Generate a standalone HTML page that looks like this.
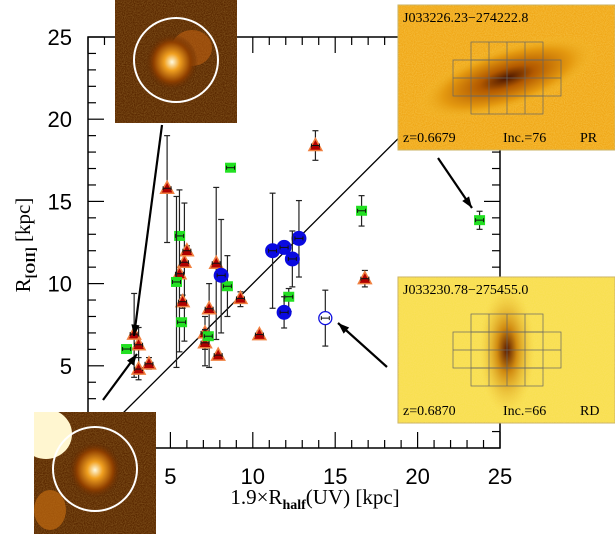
<!DOCTYPE html>
<html><head><meta charset="utf-8"><style>
html,body{margin:0;padding:0;background:#fff;width:615px;height:534px;overflow:hidden}
</style></head><body>
<svg id="chart" width="615" height="534" viewBox="0 0 615 534" xmlns="http://www.w3.org/2000/svg" font-family="Liberation Sans, sans-serif">
<defs>
<filter id="noise" x="0" y="0" width="100%" height="100%"><feTurbulence type="fractalNoise" baseFrequency="0.9" numOctaves="1" seed="3"/><feColorMatrix values="0 0 0 0 1  0 0 0 0 0.75  0 0 0 0 0.2  0 0 0 1.2 -0.35"/></filter>
<radialGradient id="g1" cx="0.5" cy="0.5" r="0.5"><stop offset="0" stop-color="#4a1500"/><stop offset="0.3" stop-color="#b35a00"/><stop offset="0.7" stop-color="#e59a10"/><stop offset="1" stop-color="#f5c030" stop-opacity="0"/></radialGradient>
<radialGradient id="g2" cx="0.5" cy="0.5" r="0.5"><stop offset="0" stop-color="#5a1a00"/><stop offset="0.35" stop-color="#d08a10"/><stop offset="1" stop-color="#f5d040" stop-opacity="0"/></radialGradient>
<radialGradient id="gs1" cx="0.5" cy="0.5" r="0.5"><stop offset="0" stop-color="#fffbe0"/><stop offset="0.3" stop-color="#f0a020"/><stop offset="0.7" stop-color="#904000"/><stop offset="1" stop-color="#5a2500" stop-opacity="0"/></radialGradient>
<clipPath id="plotclip"><rect x="88" y="37" width="412" height="411"/></clipPath>
<clipPath id="blclip"><rect x="34" y="412" width="122" height="122"/></clipPath>
</defs>
<g id="axes"></g>
<g id="marks"></g>
<g id="insets"></g>
</svg>
<script>
const xTicks=[5,10,15,20,25];
const yTicks=[5,10,15,20,25];
const triX=[4.8,13.8,5.85,6.0,5.55,5.74,7.78,7.35,7.1,7.1,7.9,9.25,10.4,16.8,2.8,3.07,3.07,3.7];
const triY=[15.8,18.4,11.3,12.0,10.6,8.9,11.24,8.47,7.0,6.4,5.65,9.1,6.9,10.3,6.93,6.28,4.8,5.12];
const triLo=[12.5,17.5,6.5,11.7,5.85,8.5,6.6,4.9,6.0,5.0,5.5,8.6,6.7,9.8,4.3,4.15,4.5,4.8];
const triHi=[19.0,19.3,14.9,12.3,15.7,9.3,15.85,10.0,8.0,7.2,5.8,9.5,7.1,10.8,9.4,7.33,5.5,5.5];
const grX=[8.65,5.56,5.37,5.68,8.46,7.3,12.18,16.6,23.76,2.34];
const grY=[17.05,12.9,10.1,7.65,9.84,6.8,9.2,14.43,13.86,6.02];
const grLo=[17.0,12.7,4.9,7.4,8.0,6.6,8.3,13.5,13.3,6.0];
const grHi=[17.1,13.1,15.3,7.9,11.7,7.0,9.7,15.35,14.4,6.05];
const blX=[8.08,11.2,11.9,12.8,12.4,11.9];
const blY=[10.5,12.0,12.2,12.75,11.5,8.25];
const blLo=[7.0,8.5,12.0,10.4,9.8,7.3];
const blHi=[13.9,15.5,12.4,15.05,13.2,9.2];
const opX=[14.4],opY=[7.9],opLo=[6.2],opHi=[9.6];

const NS="http://www.w3.org/2000/svg";
const X0=88,X1=500,Y0=448,Y1=37;
const sx=v=>X0+(X1-X0)*v/25;
const sy=v=>Y0-(Y0-Y1)*v/25;
function mk(tag,attrs,parent){const e=document.createElementNS(NS,tag);for(const k in attrs)e.setAttribute(k,attrs[k]);parent.appendChild(e);return e;}
const axes=document.getElementById('axes'),marks=document.getElementById('marks'),ins=document.getElementById('insets');

const frame=mk('rect',{x:X0,y:Y1,width:X1-X0,height:Y0-Y1,fill:'none',stroke:'#000','stroke-width':1.5},axes);


for(let v=0;v<=25;v++){
  const L=(v%5===0)?16:8;
  const px=sx(v),py=sy(v);
  mk('line',{x1:px,y1:Y0,x2:px,y2:Y0-L,stroke:'#000','stroke-width':1.2},axes);
  mk('line',{x1:px,y1:Y1,x2:px,y2:Y1+L,stroke:'#000','stroke-width':1.2},axes);
  mk('line',{x1:X0,y1:py,x2:X0+L,y2:py,stroke:'#000','stroke-width':1.2},axes);
  mk('line',{x1:X1,y1:py,x2:X1-L,y2:py,stroke:'#000','stroke-width':1.2},axes);
}
xTicks.forEach(v=>{const t=mk('text',{x:sx(v),y:484,'text-anchor':'middle','font-size':22},axes);t.textContent=v;

});
yTicks.forEach(v=>{const t=mk('text',{x:72,y:sy(v)+8,'text-anchor':'end','font-size':22},axes);t.textContent=v;

});

const diag=mk('line',{x1:sx(0),y1:sy(0),x2:sx(25),y2:sy(25),stroke:'#000','stroke-width':1.3,'clip-path':'url(#plotclip)'},marks);



function errbar(x,y,lo,hi,g){
  const px=sx(x);
  mk('line',{x1:px,y1:sy(lo),x2:px,y2:sy(hi),stroke:'#222','stroke-width':1.2},g);
  mk('line',{x1:px-3,y1:sy(lo),x2:px+3,y2:sy(lo),stroke:'#222','stroke-width':1.2},g);
  mk('line',{x1:px-3,y1:sy(hi),x2:px+3,y2:sy(hi),stroke:'#222','stroke-width':1.2},g);
}
function xbar(x,y,g){const px=sx(x),py=sy(y);
  mk('line',{x1:px-4,y1:py,x2:px+4,y2:py,stroke:'#111','stroke-width':1},g);
  mk('line',{x1:px-4,y1:py-2,x2:px-4,y2:py+2,stroke:'#111','stroke-width':1},g);
  mk('line',{x1:px+4,y1:py-2,x2:px+4,y2:py+2,stroke:'#111','stroke-width':1},g);}

triX.forEach((x,i)=>{const g=mk('g',{},marks);


errbar(x,triY[i],triLo[i],triHi[i],g);const px=sx(x),py=sy(triY[i]);
mk('polygon',{points:`${px},${py-7} ${px-6.5},${py+5} ${px+6.5},${py+5}`,fill:'#b00000',stroke:'#f08040','stroke-width':1.5},g);xbar(x,triY[i],g);});
grX.forEach((x,i)=>{const g=mk('g',{},marks);


errbar(x,grY[i],grLo[i],grHi[i],g);const px=sx(x),py=sy(grY[i]);
mk('rect',{x:px-5.5,y:py-5,width:11,height:10,fill:'#22e022'},g);xbar(x,grY[i],g);});
blX.forEach((x,i)=>{const g=mk('g',{},marks);


errbar(x,blY[i],blLo[i],blHi[i],g);
mk('circle',{cx:sx(x),cy:sy(blY[i]),r:7.5,fill:'#0a0ae0'},g);xbar(x,blY[i],g);});
opX.forEach((x,i)=>{const g=mk('g',{},marks);


errbar(x,opY[i],opLo[i],opHi[i],g);
mk('circle',{cx:sx(x),cy:sy(opY[i]),r:6.5,fill:'#fff',stroke:'#1010e0','stroke-width':1.3},g);xbar(x,opY[i],g);});

function arrow(x1,y1,x2,y2,name){const g=mk('g',{},ins);


mk('line',{x1,y1,x2,y2,stroke:'#000','stroke-width':2.2},g);
const a=Math.atan2(y2-y1,x2-x1),L=12,w=0.35;
mk('polygon',{points:`${x2},${y2} ${x2-L*Math.cos(a-w)},${y2-L*Math.sin(a-w)} ${x2-L*Math.cos(a+w)},${y2-L*Math.sin(a+w)}`,fill:'#000'},g);}
arrow(162,125,134,336,'arrow-top-left');
arrow(103,400,137,354,'arrow-bottom-left');
arrow(438,158,472,208,'arrow-top-right');
arrow(387,367,338,323,'arrow-bottom-right');

function smallInset(x,y,w,h,name,glowX,glowY,extra){
  const g=mk('g',{},ins);
  
  
  mk('rect',{x,y,width:w,height:h,fill:'#5a2800'},g);
  mk('rect',{x,y,width:w,height:h,fill:'#301000',filter:'url(#noise)',opacity:0.35},g);
  if(extra)extra(g);
  mk('ellipse',{cx:glowX,cy:glowY,rx:26,ry:28,fill:'url(#gs1)'},g);
  return g;}
const tl=smallInset(115,0,122,123,'inset-top-left',172,62,g=>{mk('ellipse',{cx:192,cy:48,rx:20,ry:18,fill:'#c06010',opacity:0.6},g);});
mk('circle',{cx:176,cy:60,r:42,fill:'none',stroke:'#fff','stroke-width':2},tl);
const bl=smallInset(34,412,122,122,'inset-bottom-left',95,470,g=>{
  const c=mk('g',{'clip-path':'url(#blclip)'},g);
  mk('ellipse',{cx:46,cy:434,rx:26,ry:25,fill:'#fff6d0'},c);
  mk('ellipse',{cx:50,cy:510,rx:16,ry:20,fill:'#c06a10',opacity:0.7},c);});
mk('circle',{cx:95,cy:469,r:42,fill:'none',stroke:'#fff','stroke-width':2},bl);

function bigInset(x,y,w,h,name,title,z,inc,cls,rot,rx,ry,grad,bg){
  const g=mk('g',{},ins);
  
  
  mk('rect',{x,y,width:w,height:h,fill:bg,stroke:'#c8b060','stroke-width':1},g);
  mk('rect',{x,y,width:w,height:h,fill:'#fff',filter:'url(#noise)',opacity:0.55},g);
  const cx=x+109,cy=y+73;
  mk('ellipse',{cx,cy,rx,ry,fill:`url(#${grad})`,transform:`rotate(${rot} ${cx} ${cy})`},g);
  const st={stroke:'#666','stroke-width':0.7};
  mk('rect',Object.assign({x:cx-36,y:cy-36,width:72,height:72,fill:'none'},st),g);
  mk('rect',Object.assign({x:cx-54,y:cy-18,width:108,height:36,fill:'none'},st),g);
  [-18,0,18].forEach(d=>{mk('line',Object.assign({x1:cx+d,y1:cy-36,x2:cx+d,y2:cy+36},st),g);});
  mk('line',Object.assign({x1:cx-54,y1:cy,x2:cx+54,y2:cy},st),g);
  mk('line',Object.assign({x1:cx-36,y1:cy-18,x2:cx+36,y2:cy-18},st),g);
  mk('line',Object.assign({x1:cx-36,y1:cy+18,x2:cx+36,y2:cy+18},st),g);
  const f='Liberation Serif, serif';
  const t1=mk('text',{x:x+5,y:y+17,'font-size':14,'font-family':f},g);t1.textContent=title;
  const t2=mk('text',{x:x+5,y:y+h-8,'font-size':14,'font-family':f},g);t2.textContent=z;
  const t3=mk('text',{x:x+105,y:y+h-8,'font-size':14,'font-family':f},g);t3.textContent=inc;
  const t4=mk('text',{x:x+182,y:y+h-8,'font-size':14,'font-family':f},g);t4.textContent=cls;
}
bigInset(398,5,217,145,'inset-top-right','J033226.23−274222.8','z=0.6679','Inc.=76','PR',-18,95,32,'g1','#f0a818');
bigInset(398,277,217,146,'inset-bottom-right','J033230.78−275455.0','z=0.6870','Inc.=66','RD',0,28,65,'g2','#f8e050');

const xl=mk('text',{x:315,y:504,'text-anchor':'middle','font-size':21,'font-family':'Liberation Serif, serif'},ins);


xl.innerHTML='1.9×R<tspan font-size="14" dy="5" font-weight="bold">half</tspan><tspan dy="-5">(UV) [kpc]</tspan>';
const yl=mk('text',{x:0,y:0,'text-anchor':'middle','font-size':21,'font-family':'Liberation Serif, serif',transform:'translate(30,245) rotate(-90)'},ins);


yl.innerHTML='R<tspan font-size="14" dy="5" font-weight="bold">[OII]</tspan><tspan dy="-5"> [kpc]</tspan>';
</script>
</body></html>
